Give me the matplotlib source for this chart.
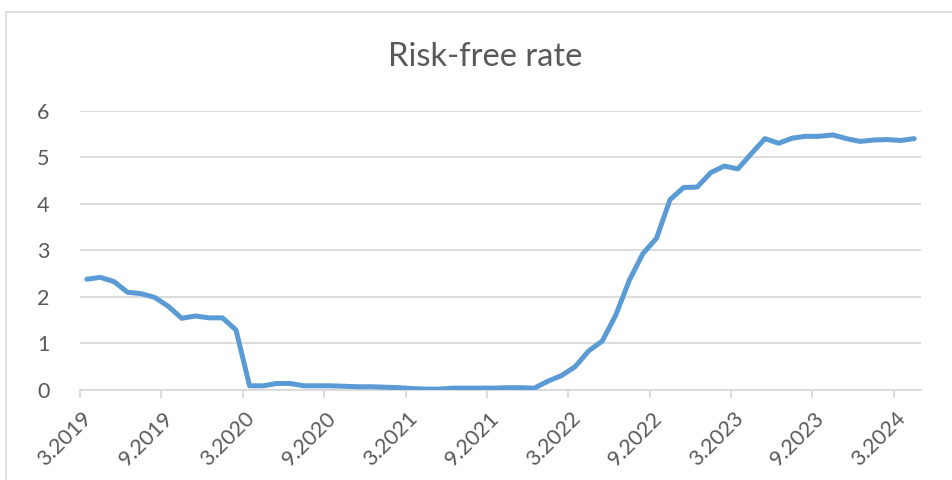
import numpy as np
import matplotlib.pyplot as plt
import matplotlib.transforms as mtransforms
from matplotlib.patches import Rectangle

# monthly risk-free rate, 3.2019 .. 4.2024
rate = [2.38, 2.42, 2.33, 2.10, 2.07, 1.99, 1.80, 1.54, 1.59, 1.55,
        1.55, 1.29, 0.09, 0.09, 0.14, 0.14, 0.09, 0.09, 0.09, 0.08,
        0.07, 0.07, 0.06, 0.05, 0.03, 0.02, 0.02, 0.04, 0.04, 0.04,
        0.04, 0.05, 0.05, 0.04, 0.19, 0.31, 0.50, 0.84, 1.05, 1.61,
        2.36, 2.93, 3.26, 4.09, 4.35, 4.36, 4.67, 4.81, 4.75, 5.08,
        5.40, 5.30, 5.41, 5.45, 5.45, 5.48, 5.40, 5.34, 5.37, 5.38,
        5.36, 5.40]
tick_labels = ['3.2019', '9.2019', '3.2020', '9.2020', '3.2021', '9.2021',
               '3.2022', '9.2022', '3.2023', '9.2023', '3.2024']
y_ticks = [0, 1, 2, 3, 4, 5, 6]

txt = '#595959'
grid = '#d9d9d9'
plt.rcParams['font.family'] = ['Lato', 'DejaVu Sans']

fig = plt.figure(figsize=(9.53, 4.8), dpi=100)
# chart area border (only top/left visible in the crop)
fig.patches.append(Rectangle((6 / 953, -0.1), 2, 1.1 - 12 / 480, transform=fig.transFigure,
                             fill=False, edgecolor=grid, linewidth=1.2))

ax = fig.add_axes([80 / 953, 90 / 480, (921 - 80) / 953, (390 - 110.7) / 480])
x = np.arange(len(rate))
ax.plot(x, rate, color='#5b9bd5', linewidth=3.6, solid_capstyle='round', solid_joinstyle='round', zorder=3)

ax.set_xlim(-0.5, len(rate) - 0.5)
ax.set_ylim(0, 6)
ax.set_yticks(y_ticks)
ax.yaxis.grid(True, color=grid, linewidth=1.3)
ax.set_axisbelow(True)
for s in ['top', 'right', 'left']:
    ax.spines[s].set_visible(False)
ax.spines['bottom'].set_color(grid)
ax.spines['bottom'].set_linewidth(1.3)
ax.tick_params(axis='y', length=0, pad=22, labelsize=15.5, labelcolor=txt)

ax.set_xticks(np.arange(len(tick_labels)) * 6 - 0.5)
ax.set_xticklabels(tick_labels, rotation=45, ha='right', va='center', rotation_mode='anchor')
ax.tick_params(axis='x', length=6, width=1.3, color=grid, labelsize=15.5, labelcolor=txt, pad=12)
off = mtransforms.ScaledTranslation(9 / 100, 0, fig.dpi_scale_trans)
for lab in ax.get_xticklabels():
    lab.set_transform(lab.get_transform() + off)

fig.text(485 / 953, 1 - 57 / 480, 'Risk-free rate', ha='center', va='center', fontsize=23.5, color=txt)

fig.savefig('out.png', dpi=100)
